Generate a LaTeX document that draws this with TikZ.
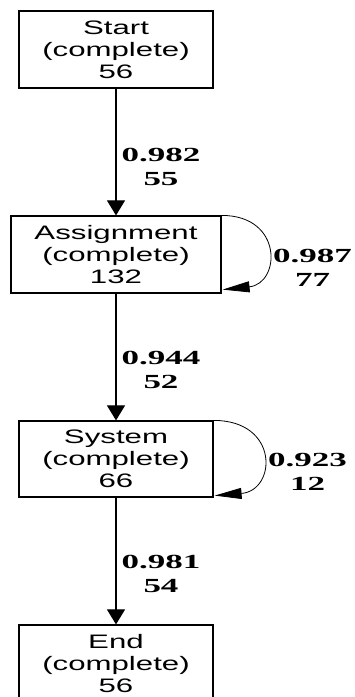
\documentclass[tikz,border=0pt]{standalone}
\usepackage{fontspec}
\usetikzlibrary{arrows.meta,calc}
\newfontfamily\boxfont{Liberation Sans}[FakeStretch=1.6]
\newfontfamily\lblfont{Liberation Serif}[FakeStretch=1.75]
\tikzset{
  state/.style={draw, line width=1.2pt, rectangle, minimum width=194pt,
    minimum height=77pt, inner sep=0pt, align=center,
    font=\boxfont\fontsize{19.5}{22}\selectfont},
  flow/.style={line width=1.1pt, -{Triangle[length=15pt,width=18pt]}},
  selfloop/.style={line width=0.8pt, -{Triangle[length=27pt,width=11pt]}},
  lbl/.style={inner sep=0pt, align=center,
    font=\lblfont\bfseries\fontsize{20}{24}\selectfont}
}
\begin{document}
\begin{tikzpicture}[x=1pt, y=-1pt]
  \useasboundingbox (0,0) rectangle (355,697);
  \clip (0,0) rectangle (355,697);

  % activity boxes
  \node[state] (st) at (116,49.5) {Start\\(complete)\\56};
  \node[state, minimum width=210pt] (as) at (116,254.5) {Assignment\\(complete)\\132};
  \node[state, minimum height=76pt] (sy) at (116,459) {System\\(complete)\\66};
  \node[state] (en) at (116,663.5) {End\\(complete)\\56};

  % transitions between boxes
  \draw[flow] (st.south) -- (as.north);
  \draw[flow] (as.south) -- (sy.north);
  \draw[flow] (sy.south) -- (en.north);

  % self loops
  \draw[selfloop] (as.north east) .. controls ($(as.north east)+(62,0)$) and ($(as.south east)+(59,-10)$) .. ($(as.south east)+(1,-4)$);
  \draw[selfloop] (sy.north east) .. controls ($(sy.north east)+(66,0)$) and ($(sy.south east)+(63,-7)$) .. ($(sy.south east)+(1,-2)$);

  % transition labels
  \node[lbl] (l1) at (161,166.5) {0.982\\55};
  \node[lbl] (l2) at (161,369.5) {0.944\\52};
  \node[lbl] (l3) at (161,574) {0.981\\54};
  \node[lbl] (l4) at (312.5,267.5) {0.987\\77};
  \node[lbl] (l5) at (307.5,471.5) {0.923\\12};
\end{tikzpicture}
\end{document}
